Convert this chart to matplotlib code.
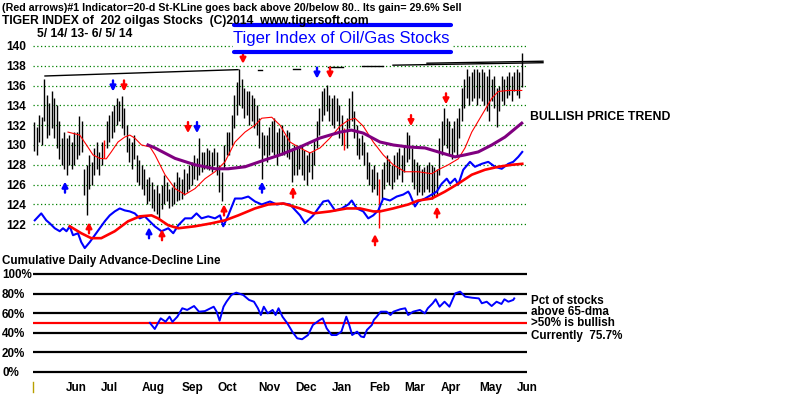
import matplotlib.pyplot as plt
from matplotlib.lines import Line2D
from matplotlib.patches import Rectangle

plt.rcParams['font.family'] = ['Liberation Sans', 'DejaVu Sans']

# ---- price bars (one per session, x = bar index) ----
highs = [
    132.3, 131.8, 133.0, 132.8, 136.7, 135.0, 134.2, 135.4, 134.7, 134.0,
    132.4, 130.7, 131.3, 130.7, 131.0, 130.3, 131.3, 131.3, 132.9, 132.4,
    127.6, 128.0, 129.0, 128.3, 129.7, 130.3, 129.3, 130.3, 130.5, 132.4,
    133.0, 133.4, 134.0, 134.7, 134.4, 134.9, 133.7, 132.0, 130.7, 130.3,
    131.0, 129.0, 128.5, 128.0, 127.6, 126.6, 126.8, 126.3, 125.6, 126.0,
    125.2, 126.0, 127.0, 126.3, 125.6, 125.8, 126.3, 127.3, 126.8, 126.6,
    127.6, 127.2, 128.0, 128.3, 129.0, 128.7, 130.7, 129.3, 129.3, 129.7,
    129.5, 129.3, 129.7, 129.3, 128.0, 127.3, 130.0, 131.3, 131.3, 133.0,
    135.0, 136.4, 137.7, 136.7, 135.7, 135.4, 135.4, 135.0, 134.7, 134.0,
    132.7, 131.3, 131.0, 131.0, 131.8, 132.4, 132.7, 131.3, 131.7, 132.0,
    131.0, 131.5, 131.3, 129.7, 130.0, 130.0, 129.7, 130.0, 129.5, 129.0,
    129.3, 129.3, 130.5, 132.4, 133.7, 135.4, 135.7, 136.1, 135.0, 134.7,
    135.0, 134.7, 134.0, 133.0, 131.7, 132.7, 134.7, 135.4, 133.4, 132.0,
    130.7, 131.0, 130.3, 129.3, 128.3, 127.6, 128.0, 127.3, 126.6, 127.6,
    128.3, 129.0, 128.6, 128.0, 129.0, 129.3, 129.7, 129.0, 130.0, 131.3,
    131.0, 129.7, 128.6, 128.3, 128.0, 127.6, 127.8, 128.0, 128.3, 128.0,
    127.8, 127.6, 130.7, 132.4, 133.7, 132.7, 132.4, 131.7, 132.4, 132.7,
    133.7, 135.7, 136.7, 137.7, 137.0, 137.4, 137.7, 137.7, 137.4, 137.7,
    137.4, 137.0, 137.7, 136.7, 137.0, 135.7, 136.0, 137.0, 136.7, 137.0,
    137.4, 137.0, 137.4, 137.7, 137.4, 139.3,
]
lows = [
    129.4, 129.0, 130.3, 130.0, 132.4, 130.7, 131.0, 131.7, 130.7, 129.7,
    128.6, 128.0, 127.6, 127.0, 128.0, 127.6, 128.0, 128.6, 129.0, 129.3,
    125.0, 122.9, 125.6, 126.0, 127.0, 127.6, 127.0, 128.0, 128.7, 129.7,
    130.3, 130.7, 131.3, 132.0, 132.4, 131.7, 131.0, 129.3, 128.3, 127.6,
    128.6, 126.3, 126.0, 125.6, 125.0, 124.0, 124.3, 123.6, 123.3, 123.0,
    122.6, 123.5, 124.0, 124.3, 123.6, 123.8, 124.0, 124.3, 124.5, 124.6,
    125.0, 125.3, 125.6, 126.0, 126.6, 126.5, 127.0, 127.3, 127.6, 127.6,
    127.5, 127.3, 128.0, 127.0, 125.3, 124.4, 127.6, 129.0, 129.0, 130.0,
    131.7, 133.0, 134.0, 133.7, 132.7, 133.0, 132.0, 132.4, 131.7, 131.0,
    129.7, 126.6, 129.0, 128.3, 129.0, 129.3, 129.0, 128.0, 129.0, 129.0,
    129.0, 128.8, 128.6, 126.3, 127.0, 127.0, 127.6, 127.0, 126.5, 126.0,
    127.3, 126.6, 128.0, 129.7, 131.0, 132.4, 133.0, 133.4, 132.4, 132.0,
    131.7, 132.4, 130.7, 130.0, 129.5, 129.7, 131.7, 132.4, 130.7, 129.0,
    128.6, 129.0, 128.0, 126.6, 126.0, 125.3, 125.6, 125.0, 121.6, 124.6,
    125.6, 126.3, 126.0, 125.6, 126.3, 126.6, 127.0, 126.3, 127.3, 128.3,
    128.6, 126.3, 125.6, 125.0, 125.3, 125.0, 125.3, 125.6, 125.3, 124.6,
    124.8, 125.0, 127.0, 129.0, 130.0, 129.7, 129.0, 128.6, 129.3, 129.0,
    130.7, 132.4, 133.7, 134.7, 134.0, 134.4, 134.7, 134.0, 134.7, 134.4,
    134.0, 133.4, 132.4, 134.4, 133.7, 131.8, 133.4, 134.4, 134.0, 134.7,
    135.0, 134.4, 135.4, 135.0, 134.7, 135.8,
]
red_bars = [28, 124, 138]

# 21-day moving average (thin red)
ma21_x = [13.6, 18.3, 21, 23.6, 26.3, 28.9, 30.9, 33.6, 36.3, 38.3, 40.3, 43,
          46.4, 48.4, 52.4, 56.4, 60.4, 64.4, 68.4, 72.4, 76.4, 80.4, 84.4,
          88.4, 91.1, 95.1, 98.4, 102.4, 106.4, 110.4, 114.4, 118.4, 122.4,
          125.7, 128.4, 131.7, 135.7, 139.7, 143.7, 148.4, 153.7, 159.1,
          161.7, 165.7, 169.7, 172.4, 175.1, 179.1, 183.1, 185.7, 189.7, 195.1]
ma21_y = [131.3, 131.0, 130.0, 129.0, 128.65, 128.6, 129.3, 130.3, 130.8, 131.0,
          130.7, 130.0, 129.8, 129.0, 127.0, 125.6, 125.0, 125.6, 126.6, 127.3,
          128.3, 130.3, 131.3, 132.0, 132.7, 132.8, 132.0, 130.3, 129.7, 129.2,
          129.7, 130.7, 131.9, 132.5, 132.7, 131.9, 130.3, 129.0, 128.0, 127.3,
          127.3, 127.1, 127.5, 128.0, 128.6, 129.7, 131.3, 133.0, 134.7, 135.4,
          135.5, 135.5]

# 65-day moving average (purple)
ma65_x = [45.6, 48.4, 56.4, 64.4, 72.4, 77.7, 84.4, 92.4, 98.4, 106.4, 114.4,
          122.4, 127, 131.7, 138.4, 143.7, 149.7, 156.4, 161.7, 168.4, 172.4,
          177.7, 183.1, 188.4, 195.1]
ma65_y = [130.0, 129.7, 128.65, 128.0, 127.6, 127.6, 127.8, 128.5, 129.0, 129.8,
          130.7, 131.3, 131.5, 131.2, 130.3, 130.0, 129.8, 129.7, 129.3, 128.8,
          129.0, 129.3, 130.0, 130.8, 132.2]

# cumulative A/D line (blue) and its moving average (thick red)
ad_x = [0.3, 2.9, 4.9, 6.3, 8.3, 10.3, 11.6, 13, 14.3, 15.6, 17.6, 18.9, 20.3,
        22.3, 24.3, 26.3, 28.3, 30.3, 32.3, 34.3, 36.3, 38.3, 40.3, 42.3, 44.3,
        46.3, 48.3, 51, 53.7, 55.7, 57.7, 60.4, 63, 65, 67, 69.7, 72.4, 74.4,
        75.7, 77.7, 80.4, 83.1, 85.7, 88.4, 91.1, 94.4, 97.1, 99.7, 102.4,
        106.4, 108.4, 111.7, 115.7, 117.7, 120.4, 123.1, 125.7, 127.1, 129.1,
        131.7, 133.7, 135.7, 137.7, 139.7, 142.4, 145.1, 147.7, 149.7, 150.4,
        152.4, 153.7, 156.4, 159.1, 161.1, 163.1, 165.1, 166.4, 168.4, 169.7,
        171.7, 174.4, 176.4, 179.1, 181.7, 184.4, 187.1, 189.7, 191.7, 193.7,
        195.3]
ad_y = [122.4, 123.1, 122.4, 122.1, 121.6, 121.3, 121.6, 121.3, 121.8, 120.9,
        121.1, 120.2, 119.6, 120.2, 120.9, 121.6, 122.3, 122.9, 123.3, 123.6,
        123.4, 123.3, 123.1, 122.6, 122.8, 122.3, 121.8, 121.3, 121.6, 121.1,
        121.9, 122.6, 122.6, 123.1, 122.6, 122.8, 122.6, 122.9, 121.8, 122.9,
        124.6, 124.6, 124.8, 124.3, 124.0, 124.3, 124.0, 124.1, 124.0, 122.9,
        122.1, 122.9, 124.3, 124.4, 123.4, 123.6, 124.0, 124.4, 123.6, 123.3,
        122.6, 122.9, 123.4, 124.6, 124.4, 124.8, 125.0, 125.3, 125.0, 123.8,
        124.3, 124.6, 125.0, 125.3, 126.1, 126.6, 126.1, 126.6, 126.0, 127.5,
        128.3, 127.8, 128.1, 128.3, 127.8, 127.6, 128.1, 128.3, 128.8, 129.3]
adma_x = [14.3, 18.9, 22.9, 26.9, 32.3, 37.6, 42.3, 47, 49.6, 53.7, 57.7, 64.4,
          71, 76.4, 81.7, 88.4, 93.7, 99.7, 106.4, 111.7, 118.4, 125.1, 130.4,
          135.7, 138.4, 143.7, 149.7, 153.7, 159.1, 164.4, 169.7, 175.1, 180.4,
          185.7, 191.1, 195.3]
adma_y = [121.8, 121.1, 120.6, 120.6, 121.3, 122.3, 122.8, 122.9, 122.6, 121.9,
          121.6, 121.8, 122.1, 122.4, 122.9, 123.6, 124.0, 124.1, 123.6, 123.1,
          123.3, 123.6, 123.6, 123.3, 123.3, 123.6, 124.0, 124.4, 124.6, 125.3,
          126.1, 127.0, 127.5, 127.8, 128.0, 128.1]

# resistance line segments (start bar, end bar, start price, end price)
res_x0 = [4.4, 89.6, 103.6, 117.6, 131.0, 143.6, 157.2]
res_x1 = [81.6, 91.0, 106.4, 123.6, 139.6, 203.6, 203.6]
res_y0 = [136.96, 137.6, 137.67, 137.9, 137.97, 138.05, 138.25]
res_y1 = [137.6, 137.6, 137.67, 137.9, 137.97, 138.3, 138.45]

# signal arrows (bar, tip price, direction, colour)
arrow_x = [12.4, 46, 91.2, 22, 51.2, 76, 103.6, 161.2, 136.4,
           31.6, 65.2, 113.2, 36, 61.6, 83.6, 118.4, 150.8, 164.8]
arrow_tip = [126.3, 121.7, 126.3, 122.2, 121.5, 124.0, 125.8, 123.8, 121.0,
             135.4, 131.2, 136.7, 135.4, 131.2, 138.2, 136.7, 131.9, 134.1]
arrow_dir = ['up'] * 9 + ['down'] * 9
arrow_col = ['blue'] * 3 + ['red'] * 6 + ['blue'] * 3 + ['red'] * 6

# pct of stocks above 65-dma
pct_x = [47.2, 49.2, 51.6, 53.6, 55.2, 56.4, 58.4, 60.4, 62.4, 65.2, 67.2, 69.6,
         73.2, 74.4, 75.6, 77.2, 78.4, 80.4, 82.4, 85.2, 87.6, 89.6, 91.2, 92.4,
         93.6, 95.2, 97.2, 98.4, 99.6, 101.2, 103.2, 105.2, 107.2, 109.2, 111.6,
         113.6, 116.4, 117.6, 119.2, 121.2, 123.2, 125.2, 127.2, 128.4, 129.6,
         131.6, 133.2, 134.4, 135.6, 137.6, 138.4, 139.6, 141.2, 143.6, 145.2,
         146.4, 149.2, 151.2, 152.4, 154.4, 157.2, 159.2, 160.4, 162.4, 163.6,
         165.2, 167.2, 169.2, 170.4, 171.6, 173.6, 175.6, 178.4, 181.2, 182.4,
         184.4, 186.4, 188.4, 190.4, 191.6, 193.2, 195.2, 195.6]
pct_y = [50, 43.7, 54.6, 51.2, 56.3, 51, 56.3, 64.9, 63.2, 67.2, 61.4, 62,
         66.5, 61.4, 52.2, 66.5, 71.6, 78.5, 80.9, 78.5, 73.4, 71.6, 64.9, 58,
         66.5, 59.7, 63.2, 58, 64.9, 56.3, 49.5, 41, 34.2, 33.2, 37.5,
         47.8, 52.9, 54.6, 44.4, 37.5, 37.5, 41, 56.3, 47.8, 37.5,
         41, 36, 35.3, 42.7, 47.8, 52.9, 56.3, 61.4, 61.4, 58,
         61.4, 63.9, 64.9, 58, 61.4, 63.2, 59.7, 64.9, 70, 74.1,
         66.5, 71.6, 66.5, 73.4, 80.2, 81.9, 76.8, 75.7, 75, 70,
         71.6, 67.2, 71.6, 69.3, 74.1, 71.6, 73.4, 75]

months = ['Jun', 'Jul', 'Aug', 'Sep', 'Oct', 'Nov', 'Dec', 'Jan', 'Feb',
          'Mar', 'Apr', 'May', 'Jun']
month_pos = [17.2, 30.8, 48.4, 64.4, 78.8, 96, 110.8, 125.6, 140.8, 155.2,
             169.6, 186, 200.8]

price_ticks = [122, 124, 126, 128, 130, 132, 134, 136, 138, 140]
pct_ticks = [0, 20, 40, 60, 80, 100]

W, H = 800, 395
fig = plt.figure(figsize=(W / 100, H / 100), dpi=100)
ax1 = fig.add_axes([33 / W, 1 - 258 / H, 494 / W, 218 / H])
ax2 = fig.add_axes([33 / W, 1 - 378 / H, 494 / W, 110 / H])
for ax in (ax1, ax2):
    ax.set_xlim(-0.4, 197.2)
    for s in ax.spines.values():
        s.set_visible(False)

# ---- price panel ----
ax1.set_ylim(118.6, 140.59)
ax1.set_axisbelow(True)
ax1.set_yticks(price_ticks, [str(t) for t in price_ticks],
               fontsize=8.6, fontweight='bold')
ax1.set_xticks([])
ax1.tick_params(axis='y', length=0, pad=4.8)
ax1.grid(axis='y', color='#008000', linestyle=(0, (1, 2)), lw=0.9)

bar_cols = ['red' if i in red_bars else 'black' for i in range(len(highs))]
ax1.vlines(range(len(highs)), lows, highs, colors=bar_cols, lw=1.0, zorder=2)
ax1.plot(ma21_x, ma21_y, color='red', lw=0.8, zorder=3)
ax1.plot(ma65_x, ma65_y, color='#800080', lw=2.2, zorder=3)
ax1.plot(ad_x, ad_y, color='blue', lw=1.5, zorder=3)
ax1.plot(adma_x, adma_y, color='red', lw=1.9, zorder=3)
for x0, x1, y0, y1 in zip(res_x0, res_x1, res_y0, res_y1):
    ax1.plot([x0, x1], [y0, y1], color='black', lw=1.0, clip_on=False, zorder=3)

for x, tip, d, c in zip(arrow_x, arrow_tip, arrow_dir, arrow_col):
    off = -11 if d == 'up' else 11
    ax1.annotate('', xy=(x, tip), xytext=(0, off), textcoords='offset pixels',
                 arrowprops=dict(arrowstyle='-|>,head_width=0.17,head_length=0.32',
                                 color=c, lw=1.7, shrinkA=0, shrinkB=0),
                 zorder=4)

# ---- percentage panel ----
ax2.set_ylim(-6.45, 106.1)
ax2.set_axisbelow(True)
ax2.set_yticks(pct_ticks, [f'{t}%' for t in pct_ticks],
               fontsize=8.4, fontweight='bold')
for lab in ax2.get_yticklabels():
    lab.set_horizontalalignment('left')
ax2.tick_params(axis='y', length=0, pad=22.3)
ax2.grid(axis='y', color='black', lw=1.6)
ax2.axhline(50, color='red', lw=1.6)
ax2.plot(pct_x, pct_y, color='blue', lw=1.4, zorder=3)
ax2.set_xticks(month_pos, months, fontsize=8.5, fontweight='bold')
ax2.tick_params(axis='x', length=0, pad=3)

# ---- texts ----
bold = dict(fontweight='bold', va='center', ha='left')
fig.text(2 / W, 1 - 8 / H,
         '(Red arrows)#1 Indicator=20-d St-KLine goes back above 20/below 80.. '
         'Its gain= 29.6% Sell', fontsize=7.7, **bold)
fig.text(2 / W, 1 - 21 / H,
         'TIGER INDEX of  202 oilgas Stocks  (C)2014  www.tigersoft.com',
         fontsize=8.7, **bold)
fig.text(37 / W, 1 - 34 / H, '5/ 14/ 13- 6/ 5/ 14', fontsize=8.7, **bold)

fig.add_artist(Rectangle((233 / W, 1 - 52 / H), 219 / W, 27 / H,
                         color='white', zorder=1))
for yy in (25, 52):
    fig.add_artist(Line2D([234 / W, 451 / W], [1 - yy / H] * 2, color='blue',
                          lw=3, solid_capstyle='round', zorder=2))
fig.text(233 / W, 1 - 38.5 / H, 'Tiger Index of Oil/Gas Stocks', fontsize=12,
         color='blue', va='center', ha='left')

fig.text(530 / W, 1 - 117 / H, 'BULLISH PRICE TREND', fontsize=8.8, **bold)
fig.text(2 / W, 1 - 261 / H, 'Cumulative Daily Advance-Decline Line',
         fontsize=8.4, **bold)
for yy, s in zip([300.7, 311.7, 322.7, 336],
                 ['Pct of stocks', 'above 65-dma', '>50% is bullish',
                  'Currently  75.7%']):
    fig.text(531 / W, 1 - yy / H, s, fontsize=8.4, **bold)

fig.add_artist(Line2D([33 / W] * 2, [1 - 382 / H, 1 - 392 / H],
                      color='#b8a000', lw=1))

fig.savefig('out.png', dpi=100)
